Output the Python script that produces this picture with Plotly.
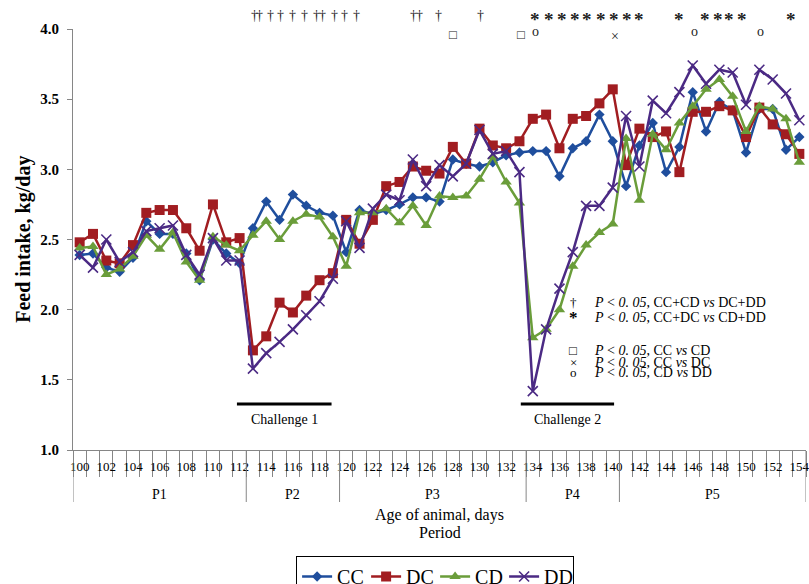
import plotly.graph_objects as go

days = list(range(100, 155))

CC = [2.39, 2.40, 2.30, 2.27, 2.37, 2.63, 2.54, 2.54, 2.40, 2.21, 2.50, 2.40, 2.33,
      2.58, 2.77, 2.64, 2.82, 2.74, 2.69, 2.67,
      2.41, 2.71, 2.68, 2.71, 2.75, 2.80, 2.80, 2.77, 3.07, 3.04, 3.02, 3.05, 3.10, 3.12,
      3.13, 3.13, 2.95, 3.15, 3.20, 3.39, 3.20,
      2.88, 3.17, 3.33, 2.98, 3.16, 3.55, 3.27, 3.48, 3.42, 3.12, 3.43, 3.43, 3.14, 3.23]
DC = [2.48, 2.54, 2.35, 2.33, 2.46, 2.69, 2.71, 2.71, 2.58, 2.42, 2.75, 2.48, 2.51,
      1.71, 1.81, 2.05, 1.98, 2.10, 2.21, 2.26,
      2.64, 2.47, 2.64, 2.88, 2.91, 3.02, 2.99, 2.97, 3.16, 3.04, 3.29, 3.17, 3.15, 3.20,
      3.36, 3.39, 3.15, 3.36, 3.38, 3.47, 3.57,
      3.03, 3.29, 3.23, 3.27, 2.98, 3.41, 3.41, 3.45, 3.42, 3.23, 3.44, 3.32, 3.25, 3.11]
CD = [2.44, 2.45, 2.25, 2.29, 2.38, 2.53, 2.43, 2.55, 2.34, 2.21, 2.52, 2.46, 2.42,
      2.53, 2.63, 2.50, 2.63, 2.68, 2.66, 2.52,
      2.31, 2.69, 2.69, 2.72, 2.62, 2.74, 2.60, 2.81, 2.80, 2.81, 2.93, 3.09, 2.91, 2.76,
      1.80, 1.86, 2.00, 2.31, 2.46, 2.55, 2.61,
      3.22, 2.78, 3.25, 3.14, 3.33, 3.45, 3.57, 3.64, 3.52, 3.27, 3.45, 3.43, 3.36, 3.05]
DD = [2.39, 2.30, 2.50, 2.34, 2.41, 2.56, 2.58, 2.60, 2.39, 2.25, 2.51, 2.35, 2.35,
      1.58, 1.69, 1.77, 1.86, 1.96, 2.06, 2.22,
      2.63, 2.44, 2.72, 2.82, 2.78, 3.07, 2.88, 3.03, 2.95, 3.04, 3.28, 3.11, 3.13, 2.98,
      1.42, 1.86, 2.15, 2.41, 2.74, 2.74, 2.87,
      3.38, 3.02, 3.49, 3.40, 3.55, 3.74, 3.61, 3.71, 3.69, 3.46, 3.71, 3.64, 3.54, 3.35]

series_names = ["CC", "DC", "CD", "DD"]
series_values = [CC, DC, CD, DD]
series_colors = ["#1F4E9D", "#A11D21", "#6A9D3A", "#4B2A84"]
series_symbols = ["diamond", "square", "triangle-up", "x-thin"]
series_sizes = [8, 10, 10, 10]

x_tick_labels = [str(d) for d in range(100, 155, 2)]

periods = ["P1", "P2", "P3", "P4", "P5"]
period_starts = [100, 113, 120, 134, 141]
period_ends = [112, 119, 133, 140, 154]

challenges = ["Challenge 1", "Challenge 2"]
challenge_from = [111.8, 133.1]
challenge_to = [118.9, 140.1]

dagger_days = [113.1, 113.5, 114.3, 115.1, 116.0, 116.9, 117.8, 118.25, 119.1, 119.9, 120.8,
               125.05, 125.5, 126.9, 130.07]
star_days = [134.16, 135.2, 136.2, 137.2, 138.1, 139.1, 140.1, 141.1, 142.0,
             144.96, 146.9, 147.9, 148.75, 149.7, 153.4]
square_days = [128.0, 133.1]
cross_days = [140.2]
circle_days = [134.2, 146.1, 151.1]

sig_symbols = ["†", "*", "□", "×", "o"]
sig_texts = ["<i>P</i> < <i>0. 05</i>, CC+CD <i>vs</i> DC+DD",
             "<i>P</i> < <i>0. 05</i>, CC+DC <i>vs</i> CD+DD",
             "<i>P</i> < <i>0. 05</i>, CC <i>vs</i> CD",
             "<i>P</i> < <i>0. 05</i>, CC <i>vs</i> DC",
             "<i>P</i> < <i>0. 05</i>, CD <i>vs</i> DD"]
sig_y = [2.048, 1.941, 1.706, 1.627, 1.549]

SERIF = "Liberation Serif"
GRAY = "#868686"
PLOT_H = 421.0

fig = go.Figure()
for name, vals, col, sym, sz in zip(series_names, series_values, series_colors,
                                    series_symbols, series_sizes):
    fig.add_trace(go.Scatter(
        x=days, y=vals, name=name, mode="lines+markers",
        line=dict(color=col, width=2.5),
        marker=dict(symbol=sym, size=sz, color=col,
                    line=dict(color=col, width=1.6 if sym == "x-thin" else 0)),
        cliponaxis=False,
    ))

shapes = []
annotations = []


def ann(**kw):
    kw.setdefault("showarrow", False)
    kw.setdefault("xanchor", "center")
    kw.setdefault("yanchor", "middle")
    annotations.append(kw)


# period dividers
bounds = [period_starts[0] - 0.5] + [e + 0.5 for e in period_ends]
for b in bounds:
    shapes.append(dict(type="line", xref="x", yref="paper", x0=b, x1=b,
                       y0=0, y1=-52 / PLOT_H, line=dict(color=GRAY, width=1)))
for p, s, e in zip(periods, period_starts, period_ends):
    ann(x=(s + e) / 2, y=-45 / PLOT_H, xref="x", yref="paper", text=p,
        font=dict(family=SERIF, size=14, color="black"))

# challenge bars
for c, a, b in zip(challenges, challenge_from, challenge_to):
    shapes.append(dict(type="line", xref="x", yref="y", x0=a, x1=b, y0=1.328, y1=1.328,
                       line=dict(color="black", width=3)))
    ann(x=(a + b) / 2, y=1.22, xref="x", yref="y", text=c,
        font=dict(family=SERIF, size=14, color="black"))


# significance marks at top (paper y so they may sit above the axis range)
def marks(xs, sym, ypx, size, weight="normal"):
    for xv in xs:
        ann(x=xv, y=(450 - ypx) / PLOT_H, xref="x", yref="paper", text=sym,
            font=dict(family=SERIF, size=size, color="#222222", weight=weight))


marks(dagger_days, "†", 16, 14)
marks(star_days, "*", 20, 19, "bold")
marks(square_days, "□", 34, 13)
marks(cross_days, "×", 36, 14)
marks(circle_days, "o", 31, 14)

# significance key
for sym, txt, yv in zip(sig_symbols, sig_texts, sig_y):
    ann(x=137.04, y=yv, xref="x", yref="y", text=sym,
        font=dict(family=SERIF, size=17 if sym == "*" else 13, color="black",
                  weight="bold" if sym == "*" else "normal"))
    ann(x=138.45, y=yv, xref="x", yref="y", text=txt, xanchor="left",
        font=dict(family=SERIF, size=14, color="black"))

# axis titles
ann(x=0.5, y=(450 - 515) / PLOT_H, xref="paper", yref="paper",
    text="Age of animal, days", font=dict(family=SERIF, size=16, color="black"))
ann(x=0.5, y=(450 - 532) / PLOT_H, xref="paper", yref="paper",
    text="Period", font=dict(family=SERIF, size=16, color="black"))
ann(x=(23 - 72.7) / 733.3, y=0.5, xref="paper", yref="paper",
    text="Feed intake, kg/day", textangle=-90,
    font=dict(family=SERIF, size=20, color="black", weight="bold"))

fig.update_layout(
    width=809, height=584,
    margin=dict(l=72.7, r=3, t=29, b=134, autoexpand=False),
    paper_bgcolor="white", plot_bgcolor="white",
    showlegend=True,
    legend=dict(orientation="h", x=0.494, xanchor="center", y=(450 - 556) / PLOT_H,
                yanchor="top", bordercolor="black", borderwidth=1,
                font=dict(family=SERIF, size=20, color="black"),
                entrywidth=24, itemwidth=30, tracegroupgap=0),
    shapes=shapes, annotations=annotations,
)
fig.update_xaxes(
    range=[99.5, 154.5], showgrid=False, zeroline=False,
    showline=True, linecolor=GRAY, linewidth=1,
    tickmode="array", tickvals=list(range(100, 155, 2)), ticktext=x_tick_labels,
    ticks="", ticklabelstandoff=4, ticklabeloverflow="allow",
    tickfont=dict(family=SERIF, size=13, color="black"),
    minor=dict(tickmode="array", tickvals=[d - 0.5 for d in days] + [154.5],
               ticks="outside", ticklen=26, tickcolor=GRAY, tickwidth=1),
)
fig.update_yaxes(
    range=[1.0, 4.0], dtick=0.5, tick0=1.0, tickformat=".1f",
    showgrid=False, zeroline=False, showline=True, linecolor=GRAY, linewidth=1,
    ticks="outside", ticklen=5, tickcolor=GRAY, ticklabelstandoff=5,
    tickfont=dict(family=SERIF, size=15, color="black", weight="bold"),
)

fig.write_html("out.html",
               config={"displayModeBar": False},
               post_script="document.body.style.margin='0px';"
                           "document.body.style.overflow='hidden';")
